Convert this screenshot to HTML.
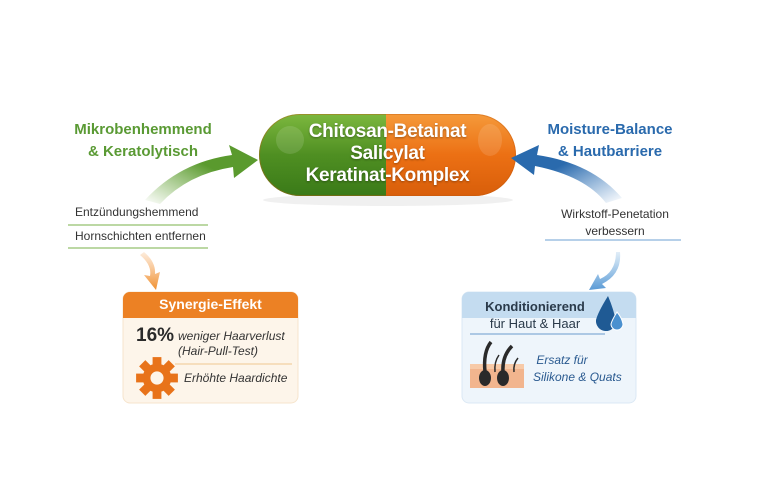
<!DOCTYPE html>
<html><head><meta charset="utf-8"><style>
body{margin:0;width:768px;height:499px;background:#fff;font-family:"Liberation Sans",sans-serif;position:relative;overflow:hidden}
.t{position:absolute;white-space:nowrap}
</style></head><body>
<svg width="768" height="499" style="position:absolute;left:0;top:0">
<defs>
<linearGradient id="pg" x1="0" y1="0" x2="0" y2="1"><stop offset="0" stop-color="#7cb83e"/><stop offset="0.5" stop-color="#4f8f22"/><stop offset="1" stop-color="#3a7a18"/></linearGradient>
<linearGradient id="po" x1="0" y1="0" x2="0" y2="1"><stop offset="0" stop-color="#f59a3a"/><stop offset="0.5" stop-color="#ec7014"/><stop offset="1" stop-color="#d85e0a"/></linearGradient>
<clipPath id="pc"><rect x="259" y="114" width="257" height="82" rx="41"/></clipPath>
<linearGradient id="ga" x1="0" y1="1" x2="1" y2="0"><stop offset="0" stop-color="#6aa83a" stop-opacity="0"/><stop offset="0.6" stop-color="#5a9a2e"/></linearGradient>
<linearGradient id="ba" x1="1" y1="1" x2="0" y2="0"><stop offset="0" stop-color="#3f7fc0" stop-opacity="0"/><stop offset="0.6" stop-color="#2a6aad"/></linearGradient>
<linearGradient id="oa" x1="0" y1="0" x2="0" y2="1"><stop offset="0" stop-color="#f5a050" stop-opacity="0.2"/><stop offset="1" stop-color="#f09030"/></linearGradient>
<linearGradient id="la" x1="0" y1="0" x2="0" y2="1"><stop offset="0" stop-color="#6aa8dc" stop-opacity="0.2"/><stop offset="1" stop-color="#5a9ad6"/></linearGradient>
</defs>
<ellipse cx="388" cy="200" rx="125" ry="6" fill="#000" opacity="0.06"/>
<g clip-path="url(#pc)">
<rect x="259" y="114" width="127" height="82" fill="url(#pg)"/>
<rect x="386" y="114" width="130" height="82" fill="url(#po)"/>
<ellipse cx="290" cy="140" rx="14" ry="14" fill="#fff" opacity="0.12"/>
<ellipse cx="490" cy="140" rx="12" ry="16" fill="#fff" opacity="0.12"/>
</g>
<rect x="259.5" y="114.5" width="256" height="81" rx="40.5" fill="none" stroke="#c05a10" stroke-opacity="0.4"/>
<path d="M145 200 Q180 162 232 155 L229 145 L258 160 L234 178 L233 167 Q188 174 160 204 Z" fill="url(#ga)"/>
<path d="M622 198 Q592 163 537 155 L539 145 L511 158 L534 175 L535 166 Q585 176 606 203 Z" fill="url(#ba)"/>
<path d="M140 255 Q152 265 150 276 L144 275 L156 290 L160 272 L155 274 Q156 262 144 252 Z" fill="url(#oa)"/>
<path d="M616 252 Q616 272 600 279 L598 274 L589 290 L606 288 L602 284 Q622 274 620 252 Z" fill="url(#la)"/>
<line x1="68" y1="225" x2="208" y2="225" stroke="#7ab04a" stroke-width="1"/>
<line x1="68" y1="248" x2="208" y2="248" stroke="#7ab04a" stroke-width="1"/>
<line x1="545" y1="240" x2="681" y2="240" stroke="#8ab4dc" stroke-width="1.2"/>
<rect x="123" y="292" width="175" height="111" rx="7" fill="#fdf5ea" stroke="#f6e4cc"/>
<path d="M123 318 V299 a7 7 0 0 1 7 -7 H291 a7 7 0 0 1 7 7 V318 Z" fill="#ec8124"/>
<line x1="175" y1="364" x2="292" y2="364" stroke="#f0c890"/>
<g transform="translate(157,378) scale(1.1)" fill="#e8731a">
<circle r="13"/>
<g id="tt"><rect x="-4" y="-19" width="8" height="8"/></g>
<use href="#tt" transform="rotate(45)"/><use href="#tt" transform="rotate(90)"/><use href="#tt" transform="rotate(135)"/><use href="#tt" transform="rotate(180)"/><use href="#tt" transform="rotate(225)"/><use href="#tt" transform="rotate(270)"/><use href="#tt" transform="rotate(315)"/>
<circle r="6" fill="#fdf5ea"/>
</g>
<rect x="462" y="292" width="174" height="111" rx="7" fill="#eef5fb" stroke="#dbe8f4"/>
<path d="M462 318 V299 a7 7 0 0 1 7 -7 H629 a7 7 0 0 1 7 7 V318 Z" fill="#c4dcf0"/>
<line x1="470" y1="334" x2="605" y2="334" stroke="#6a9ccc"/>
<path d="M608 296 Q598 312 596 320 a10 10 0 0 0 20 2 Q614 310 608 296Z" fill="#1f5a94"/>
<path d="M617 312 Q612 320 611 324 a6 6 0 0 0 12 0 Q622 318 617 312Z" fill="#4a90cf" stroke="#fff"/>
<rect x="470" y="368" width="54" height="20" fill="#f2b58e"/>
<rect x="470" y="364" width="54" height="5" fill="#f7caa8"/>
<ellipse cx="485" cy="378" rx="6" ry="8" fill="#2a2a2a"/>
<ellipse cx="503" cy="378" rx="6" ry="8" fill="#2a2a2a"/>
<path d="M485 372 Q483 352 491 342" stroke="#2a2a2a" stroke-width="3.5" fill="none"/>
<path d="M503 372 Q502 356 512 346" stroke="#2a2a2a" stroke-width="3.5" fill="none"/>
<path d="M495 372 Q494 362 499 355" stroke="#2a2a2a" stroke-width="1.5" fill="none"/>
<path d="M514 372 Q513 364 518 358" stroke="#2a2a2a" stroke-width="1.5" fill="none"/>
</svg>
<div class="t" style="left:259px;width:257px;top:121px;text-align:center;color:#fff;font-weight:bold;font-size:19px;line-height:22px;letter-spacing:-0.3px;text-shadow:0 1px 2px rgba(0,0,0,.35)">Chitosan-Betainat<br>Salicylat<br>Keratinat-Komplex</div>
<div class="t" style="left:43px;width:200px;top:119px;text-align:center;color:#5a9a34;font-weight:bold;font-size:15px;line-height:22px">Mikrobenhemmend<br>&amp; Keratolytisch</div>
<div class="t" style="left:510px;width:200px;top:119px;text-align:center;color:#2a6aad;font-weight:bold;font-size:15px;line-height:22px">Moisture-Balance<br>&amp; Hautbarriere</div>
<div class="t" style="left:75px;top:205px;font-size:12px;color:#333">Entzündungshemmend</div>
<div class="t" style="left:75px;top:229px;font-size:12px;color:#333">Hornschichten entfernen</div>
<div class="t" style="left:515px;width:200px;top:206px;text-align:center;font-size:12px;color:#333;line-height:17px">Wirkstoff-Penetation<br>verbessern</div>
<div class="t" style="left:123px;width:175px;top:296px;text-align:center;font-size:14px;font-weight:bold;color:#fff">Synergie-Effekt</div>
<div class="t" style="left:136px;top:325px;font-size:19px;font-weight:bold;color:#2a2a2a">16%</div>
<div class="t" style="left:178px;top:329px;font-size:12px;color:#333;font-style:italic;line-height:15px">weniger Haarverlust<br>(Hair-Pull-Test)</div>
<div class="t" style="left:184px;top:371px;font-size:12px;color:#333;font-style:italic">Erhöhte Haardichte</div>
<div class="t" style="left:465px;width:140px;top:298px;text-align:center;font-size:13px;font-weight:bold;color:#2a3a4a;line-height:17px">Konditionierend<br><span style="font-weight:normal">für Haut &amp; Haar</span></div>
<div class="t" style="left:533px;top:352px;font-size:12px;color:#2a5a90;font-style:italic;line-height:17px">&nbsp;Ersatz für<br>Silikone &amp; Quats</div>
</body></html>
